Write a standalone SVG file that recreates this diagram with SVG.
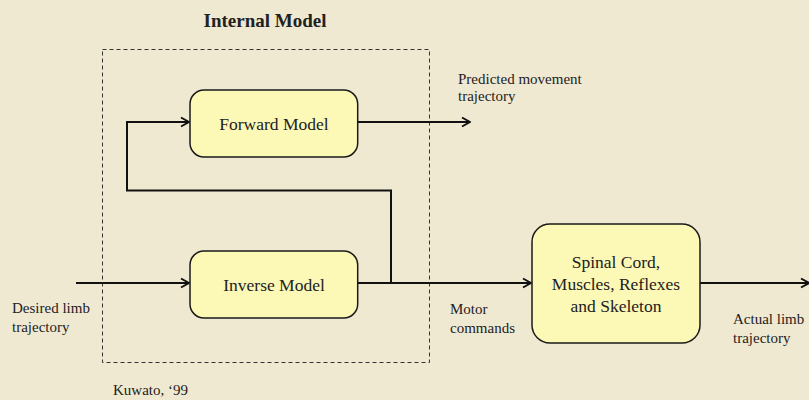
<svg xmlns="http://www.w3.org/2000/svg" width="809" height="400" viewBox="0 0 809 400">
<style>
.bg{fill:#f0e9d2}
.node rect{fill:#fcf8b6;stroke:#1a1a1a;stroke-width:1.5}
.node text{font-family:"Liberation Serif",serif;font-size:17.5px;fill:#222;text-anchor:middle}
.lbl{font-family:"Liberation Serif",serif;font-size:15px;fill:#222}
.title{font-family:"Liberation Serif",serif;font-size:19px;font-weight:bold;fill:#222;text-anchor:middle}
.conn path{fill:none;stroke:#111;stroke-width:2}
.dash{fill:none;stroke:#333;stroke-width:1;stroke-dasharray:4 3}
</style>
<defs>
<marker id="arr" viewBox="0 0 12 12" refX="11" refY="6" markerWidth="12" markerHeight="12" markerUnits="userSpaceOnUse" orient="auto">
<polyline points="3,1.5 11,6 3,10.5" fill="none" stroke="#111" stroke-width="2"/>
</marker>
</defs>
<rect class="bg" x="0" y="0" width="809" height="400"/>
<text class="title" x="265" y="27">Internal Model</text>
<rect id="internal-model" class="dash" x="102.5" y="49.5" width="327" height="313"/>
<g class="conn">
<path d="M357.7,122 H470" marker-end="url(#arr)"/>
<path d="M391,283 V190.5 H127 V122 H189" marker-end="url(#arr)"/>
<path d="M76,283 H189" marker-end="url(#arr)"/>
<path d="M357.7,283 H531" marker-end="url(#arr)"/>
<path d="M700,283 H809" marker-end="url(#arr)"/>
</g>
<g id="forward-model" class="node">
<rect x="190" y="90" width="167.7" height="67" rx="14"/>
<text x="274" y="130">Forward Model</text>
</g>
<g id="inverse-model" class="node">
<rect x="190" y="251" width="167.7" height="67" rx="14"/>
<text x="274" y="291">Inverse Model</text>
</g>
<g id="spinal" class="node">
<rect x="532" y="224" width="168" height="119" rx="18"/>
<text x="616" y="268">Spinal Cord,</text>
<text x="616" y="290">Muscles, Reflexes</text>
<text x="616" y="312">and Skeleton</text>
</g>
<text class="lbl" x="458" y="84">Predicted movement</text>
<text class="lbl" x="458" y="101">trajectory</text>
<text class="lbl" x="12" y="313">Desired limb</text>
<text class="lbl" x="12" y="332">trajectory</text>
<text class="lbl" x="450" y="314">Motor</text>
<text class="lbl" x="450" y="333">commands</text>
<text class="lbl" x="733" y="324">Actual limb</text>
<text class="lbl" x="733" y="343">trajectory</text>
<text class="lbl" x="113" y="395">Kuwato, ‘99</text>
</svg>
